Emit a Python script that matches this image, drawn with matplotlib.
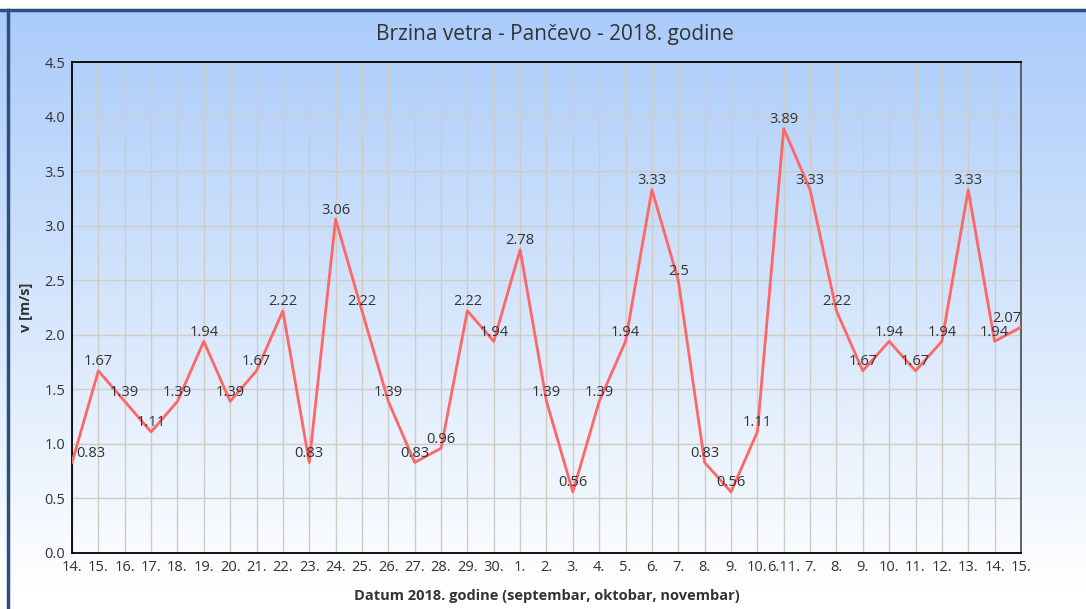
import numpy as np
import matplotlib
matplotlib.use("Agg")
import matplotlib.pyplot as plt
from matplotlib.colors import LinearSegmentedColormap

plt.rcParams['font.family'] = ['Open Sans', 'DejaVu Sans']

dates = ['14.', '15.', '16.', '17.', '18.', '19.', '20.', '21.', '22.', '23.',
         '24.', '25.', '26.', '27.', '28.', '29.', '30.', '1.', '2.', '3.',
         '4.', '5.', '6.', '7.', '8.', '9.', '10.', '6.11.', '7.', '8.',
         '9.', '10.', '11.', '12.', '13.', '14.', '15.']
speed = [0.83, 1.67, 1.39, 1.11, 1.39, 1.94, 1.39, 1.67, 2.22, 0.83,
         3.06, 2.22, 1.39, 0.83, 0.96, 2.22, 1.94, 2.78, 1.39, 0.56,
         1.39, 1.94, 3.33, 2.5, 0.83, 0.56, 1.11, 3.89, 3.33, 2.22,
         1.67, 1.94, 1.67, 1.94, 3.33, 1.94, 2.07]

fig = plt.figure(figsize=(10.86, 6.09), dpi=100)

# background gradient (light blue at the top -> white at the bottom)
bg = fig.add_axes([0, 0, 1, 1], zorder=-10)
cmap = LinearSegmentedColormap.from_list('bg', ['#aacbfa', '#d4e5fc', '#ffffff'])
grad = np.linspace(0, 1, 256).reshape(-1, 1)
bg.imshow(grad, cmap=cmap, aspect='auto', extent=[0, 1, 0.03, 0.985])
bg.set_xlim(0, 1)
bg.set_ylim(0, 1)
bg.axhspan(0.985, 1, color='white')
bg.plot([0, 1], [0.984, 0.984], color='#2c4f80', lw=2.5)
bg.plot([0.0075, 0.0075], [0, 0.984], color='#2c4f80', lw=2.5)
bg.axis('off')

ax = fig.add_axes([0.0663, 0.092, 0.8738, 0.806])
ax.set_facecolor('none')
x = np.arange(len(speed))
ax.plot(x, speed, color='#ff6666', lw=2, zorder=3)

for i, v in enumerate(speed):
    ha = 'center'
    xo = 0
    if i == 0:
        ha, xo = 'left', 3
    elif i == len(speed) - 1:
        ha, xo = 'right', 0
    ax.annotate(f'{v:g}', (i, v), xytext=(xo, 6.5), textcoords='offset points',
                ha=ha, va='center', fontsize=10.5, color='#333333', zorder=4)

ax.set_xlim(0, len(speed) - 1)
ax.set_ylim(0, 4.5)
ax.set_yticks(np.arange(0, 4.51, 0.5))
ax.set_yticklabels([f'{t:.1f}' for t in np.arange(0, 4.51, 0.5)])
ax.set_xticks(x)
ax.set_xticklabels(dates)
ax.grid(True, color='#cfccc4', lw=1)
ax.set_axisbelow(True)
ax.tick_params(length=0, labelsize=10.5, colors='#333333', pad=5)
for s in ['left', 'bottom', 'top']:
    ax.spines[s].set_color('black')
    ax.spines[s].set_linewidth(1.3)
ax.spines['right'].set_color('#555555')
ax.spines['right'].set_linewidth(1.3)

ax.set_ylabel('v [m/s]', fontsize=10.5, fontweight='bold', color='#333333', labelpad=8)
ax.set_xlabel('Datum 2018. godine (septembar, oktobar, novembar)', fontsize=10.5,
              fontweight='bold', color='#333333', labelpad=10)
fig.text(0.511, 0.944, 'Brzina vetra - Pančevo - 2018. godine', ha='center',
         va='center', fontsize=15, color='#333333')

fig.savefig('out.png', dpi=100)
